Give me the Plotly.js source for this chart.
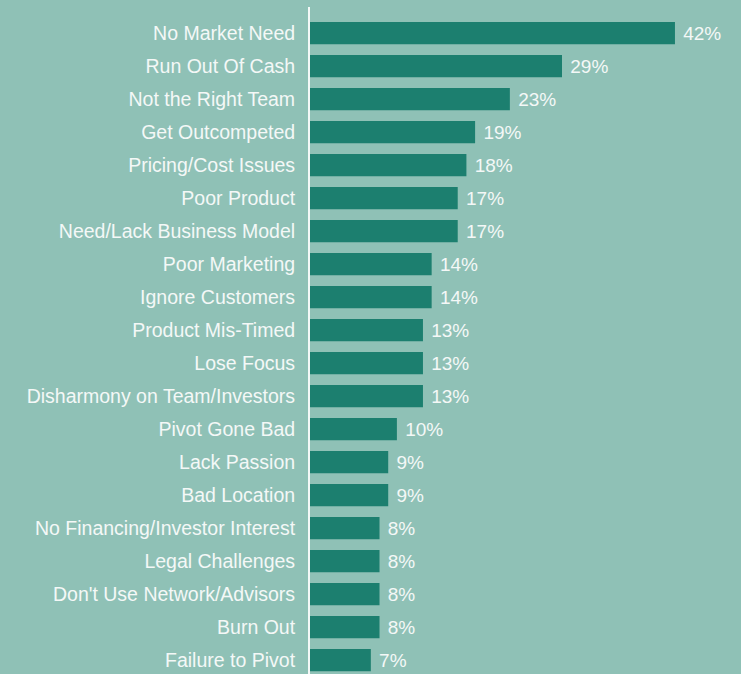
<!DOCTYPE html>
<html>
<head>
<meta charset="utf-8">
<script src="https://cdn.plot.ly/plotly-3.0.1.min.js"></script>
<style>html,body{margin:0;padding:0;background:#8fc1b6;}#chart{width:741px;height:674px;}</style>
</head>
<body>
<div id="chart"></div>
<script>
const categories = [
  "No Market Need", "Run Out Of Cash", "Not the Right Team", "Get Outcompeted",
  "Pricing/Cost Issues", "Poor Product", "Need/Lack Business Model", "Poor Marketing",
  "Ignore Customers", "Product Mis-Timed", "Lose Focus", "Disharmony on Team/Investors",
  "Pivot Gone Bad", "Lack Passion", "Bad Location", "No Financing/Investor Interest",
  "Legal Challenges", "Don't Use Network/Advisors", "Burn Out", "Failure to Pivot"
];
const values = [42, 29, 23, 19, 18, 17, 17, 14, 14, 13, 13, 13, 10, 9, 9, 8, 8, 8, 8, 7];
const valueLabels = values.map(v => "\u00a0" + v + "%");

const trace = {
  type: "bar",
  orientation: "h",
  y: categories,
  x: values,
  text: valueLabels,
  textposition: "outside",
  cliponaxis: false,
  textfont: {color: "#f4f8f7", size: 19, family: "Liberation Sans, Arial, sans-serif"},
  marker: {color: "#1c7f6f", line: {width: 0}},
  hoverinfo: "none"
};

const layout = {
  width: 741, height: 674,
  margin: {l: 310, r: 0, t: 7, b: 0, pad: 0},
  paper_bgcolor: "#8fc1b6",
  plot_bgcolor: "#8fc1b6",
  bargap: 0.33,
  showlegend: false,
  font: {family: "Liberation Sans, Arial, sans-serif", color: "#f4f8f7"},
  xaxis: {range: [0, 49.6], showgrid: false, zeroline: false, showticklabels: false, showline: false, fixedrange: true},
  yaxis: {
    type: "category",
    range: [19.42, -0.79],
    showgrid: false, zeroline: false,
    showline: true, linecolor: "#f4f8f7", linewidth: 2,
    ticks: "", ticklabelstandoff: 9,
    tickfont: {size: 19.5, color: "#f4f8f7", family: "Liberation Sans, Arial, sans-serif"},
    fixedrange: true
  }
};

Plotly.newPlot("chart", [trace], layout, {displayModeBar: false, staticPlot: true});
</script>
</body>
</html>
